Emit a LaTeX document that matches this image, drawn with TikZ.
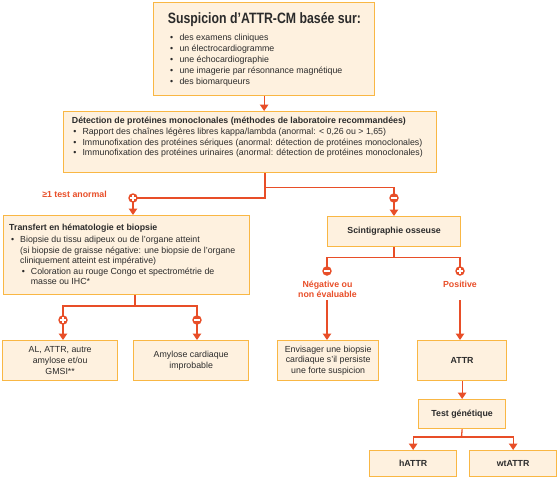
\documentclass[tikz,border=0pt]{standalone}
\usepackage{fontspec}
\setmainfont{Liberation Sans}
\newfontfamily\condfont[FakeStretch=0.82]{Liberation Sans}
\usetikzlibrary{arrows.meta}
\definecolor{boxfill}{HTML}{FEF1DF}
\definecolor{boxline}{HTML}{F9B744}
\definecolor{connc}{HTML}{E84E28}
\definecolor{txt}{HTML}{2B2B2B}
\tikzset{
  box/.style={draw=boxline, fill=boxfill, line width=1.3pt, inner sep=0pt, anchor=north west,
    align=center, text=txt, font=\fontsize{8.8}{10.7}\selectfont},
  boxb/.style={box, font=\fontsize{8.8}{10.7}\selectfont\bfseries},
  tx/.style={font=\fontsize{8.8}{10.7}\selectfont, text=txt, inner sep=0pt, anchor=west,
    text height=6.5pt, text depth=1.9pt},
  txb/.style={tx, font=\fontsize{8.8}{10.7}\selectfont\bfseries},
  lbl/.style={font=\fontsize{8.8}{10}\selectfont\bfseries, text=connc, inner sep=0pt, align=center},
  conn/.style={draw=connc, line width=1.3pt},
  arr/.style={conn, -{Triangle[width=8.5pt,length=6.5pt]}},
  sgn/.style={circle, fill=connc, minimum size=9.5pt, inner sep=0pt},
}
\newcommand{\plusat}[3]{\node[sgn] (#1) at (#2,#3) {};
  \draw[white, line width=1.4pt] ([xshift=-2.7pt]#1.center) -- ([xshift=2.7pt]#1.center)
    ([yshift=-2.7pt]#1.center) -- ([yshift=2.7pt]#1.center);}
\newcommand{\minusat}[3]{\node[sgn] (#1) at (#2,#3) {};
  \draw[white, line width=1.6pt] ([xshift=-2.8pt]#1.center) -- ([xshift=2.8pt]#1.center);}
\begin{document}
\begin{tikzpicture}[x=1pt,y=-1pt]
\useasboundingbox (0,0) rectangle (558,480);

% boxes
\node[box, minimum width=221pt, minimum height=93pt] (top) at (153,2) {};
\node[box, minimum width=373pt, minimum height=61pt] (det) at (63,111) {};
\node[box, minimum width=246pt, minimum height=79pt] (trans) at (3,215) {};
\node[boxb, minimum width=133pt, minimum height=30pt] (scint) at (327,216) {Scintigraphie osseuse};
\node[box, minimum width=115pt, minimum height=40pt] (al) at (2,340) {AL, ATTR, autre\\amylose et/ou\\GMSI**};
\node[box, minimum width=115pt, minimum height=40pt] (amy) at (133,340) {Amylose cardiaque\\improbable};
\node[box, minimum width=101pt, minimum height=40pt] (env) at (277,340) {Envisager une biopsie\\cardiaque s’il persiste\\une forte suspicion};
\node[boxb, minimum width=89pt, minimum height=40pt] (attr) at (417,340) {ATTR};
\node[boxb, minimum width=87pt, minimum height=29pt] (test) at (418,399) {Test génétique};
\node[boxb, minimum width=87pt, minimum height=26pt] (hattr) at (369,450) {hATTR};
\node[boxb, minimum width=87pt, minimum height=26pt] (wt) at (469,450) {wtATTR};

% top box text
\node[font=\condfont\bfseries\fontsize{15}{18}\selectfont, text=txt, inner sep=0pt] (ttl) at (264.5,20) {Suspicion d’ATTR-CM basée sur:};
\foreach \y/\s [count=\i] in {38.3/des examens cliniques, 49.3/un électrocardiogramme, 60/une échocardiographie, 71/une imagerie par résonnance magnétique, 81.7/des biomarqueurs}{
  \node[tx] (tb\i) at (170,\y) {•};
  \node[tx] (tt\i) at (179.3,\y) {\s};
}

% detection text
\node[txb] (dtt) at (71.7,120.7) {Détection de protéines monoclonales (méthodes de laboratoire recommandées)};
\node[tx] (db1) at (73.3,132.3) {•};
\node[tx] (dt1) at (82.3,132.3) {Rapport des chaînes légères libres kappa/lambda (anormal: < 0,26 ou > 1,65)};
\node[tx] (db2) at (73.3,143.3) {•};
\node[tx] (dt2) at (82.3,143.3) {Immunofixation des protéines sériques (anormal: détection de protéines monoclonales)};
\node[tx] (db3) at (73.3,153.3) {•};
\node[tx] (dt3) at (82.3,153.3) {Immunofixation des protéines urinaires (anormal: détection de protéines monoclonales)};

% transfert text
\node[txb] (trt) at (9,227.7) {Transfert en hématologie et biopsie};
\node[tx] (trb1) at (11,240) {•};
\node[tx] (trl1) at (20,240) {Biopsie du tissu adipeux ou de l’organe atteint};
\node[tx] (trl2) at (20,250.7) {(si biopsie de graisse négative: une biopsie de l’organe};
\node[tx] (trl3) at (20,260.7) {cliniquement atteint est impérative)};
\node[tx] (trb2) at (21.7,272.3) {•};
\node[tx] (trl4) at (30.7,272.3) {Coloration au rouge Congo et spectrométrie de};
\node[tx] (trl5) at (30.7,282.3) {masse ou IHC*};

% connectors
\coordinate (j1) at (265,187.3);
\coordinate (j2) at (135,306);
\coordinate (j3) at (394,257.7);
\coordinate (j4) at (461.5,437);
\coordinate (sN) at (327,300);
\coordinate (sP) at (460,300);

\draw[arr] (top.south) -- (top.south |- det.north);
\draw[conn] (det.south -| j1) -- (j1);
\draw[conn] (133,198) -| (j1) -| (394,198);
\draw[arr] (133,198) -- (133,215);
\draw[arr] (394,198) -- (394,216);

\draw[conn] (trans.south -| j2) -- (j2);
\draw[conn] (63,320) |- (j2) -| (197,320);
\draw[arr] (63,320) -- (63,340);
\draw[arr] (197,320) -- (197,340);

\draw[conn] (scint.south -| j3) -- (j3);
\draw[conn] (327,271) |- (j3) -| (460,271);
\draw[arr] (sN) -- (sN |- env.north);
\draw[arr] (sP) -- (sP |- attr.north);

\draw[arr] (attr.south) -- (attr.south |- test.north);
\draw[conn] (test.south) -- (j4);
\draw[arr] (j4) -| (hattr.north);
\draw[arr] (j4) -| (wt.north);

% signs
\plusat{cL}{133}{198}
\minusat{cR}{394}{198}
\plusat{cLL}{63}{320}
\minusat{cLR}{197}{320}
\minusat{cSN}{327}{271}
\plusat{cSP}{460}{271}

% labels
\node[lbl] (lab1) at (74.5,194.5) {≥1 test anormal};
\node[lbl] (lneg) at (327.5,289) {Négative ou\\non évaluable};
\node[lbl] (lpos) at (460,284.3) {Positive};
\end{tikzpicture}
\end{document}
